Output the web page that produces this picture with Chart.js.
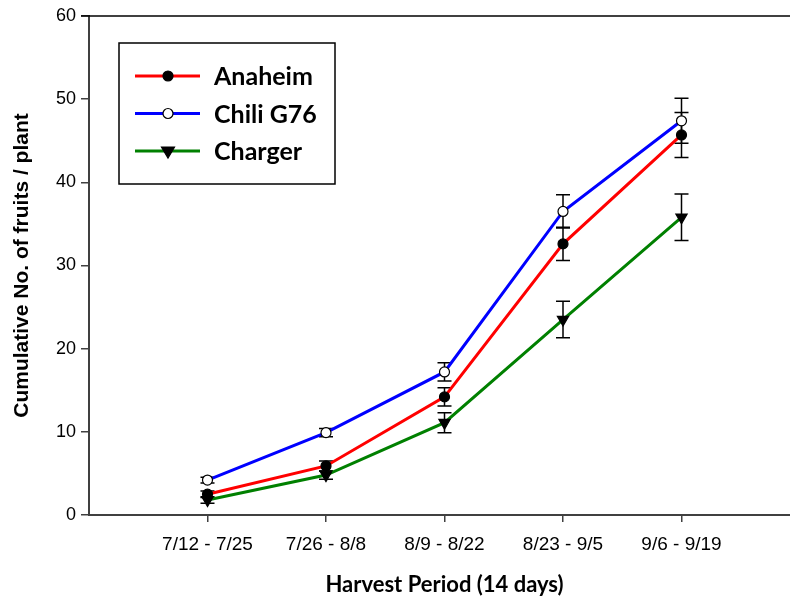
<!DOCTYPE html>
<html>
<head>
<meta charset="utf-8">
<title>Cumulative fruits per plant</title>
<script src="https://cdn.jsdelivr.net/npm/chart.js@4/dist/chart.umd.min.js"></script>
<style>
    html, body { margin: 0; padding: 0; background: #fff; overflow: hidden; }
    #wrap { width: 790px; height: 600px; overflow: hidden; }
    #chart { display: block; }
</style>
</head>
<body>
<div id="wrap"><canvas id="chart" width="820" height="600"></canvas></div>
<script>
// harvest periods (14 days each)
const periods = ['7/12 - 7/25', '7/26 - 8/8', '8/9 - 8/22', '8/23 - 9/5', '9/6 - 9/19'];

const anaheim = [2.5, 5.9, 14.2, 32.6, 45.7];
const anaheimErr = [0.4, 0.6, 1.1, 2.0, 2.7];

const chili = [4.2, 9.9, 17.2, 36.5, 47.4];
const chiliErr = [0.35, 0.5, 1.1, 2.0, 2.7];

const charger = [1.8, 4.8, 11.1, 23.5, 35.8];
const chargerErr = [0.4, 0.5, 1.2, 2.2, 2.8];

const yTicks = [0, 10, 20, 30, 40, 50, 60];

const axisColor = '#404040';

function toPoints(values) {
    return values.map((v, i) => ({ x: i + 1, y: v }));
}

function makeSeries(label, values, errors, color, style, fill, rotation) {
    return {
        label: label,
        data: toPoints(values),
        errors: errors,
        borderColor: color,
        borderWidth: 3,
        pointStyle: style,
        pointRotation: rotation,
        pointRadius: style === 'triangle' ? 6.5 : 5,
        pointBackgroundColor: fill,
        pointBorderColor: '#000',
        pointBorderWidth: 1.2,
        tension: 0
    };
}

// error bars go under the lines and markers
const errorBars = {
    id: 'errorBars',
    beforeDatasetsDraw(chart) {
        const ctx = chart.ctx;
        const xs = chart.scales.x;
        const ys = chart.scales.y;
        ctx.save();
        ctx.strokeStyle = '#000';
        ctx.lineWidth = 1.5;
        chart.data.datasets.forEach(ds => {
            ds.data.forEach((p, i) => {
                const e = ds.errors[i];
                const px = xs.getPixelForValue(p.x);
                const top = ys.getPixelForValue(p.y + e);
                const bot = ys.getPixelForValue(p.y - e);
                ctx.beginPath();
                ctx.moveTo(px, top);
                ctx.lineTo(px, bot);
                ctx.moveTo(px - 7, top);
                ctx.lineTo(px + 7, top);
                ctx.moveTo(px - 7, bot);
                ctx.lineTo(px + 7, bot);
                ctx.stroke();
            });
        });
        ctx.restore();
    }
};

// top frame line and the boxed legend
const frameAndLegend = {
    id: 'frameAndLegend',
    afterDraw(chart) {
        const ctx = chart.ctx;
        const area = chart.chartArea;
        ctx.save();
        ctx.strokeStyle = '#000';
        ctx.lineWidth = 1.5;
        ctx.beginPath();
        ctx.moveTo(area.left - 8, area.top);
        ctx.lineTo(area.right, area.top);
        ctx.stroke();

        const box = { x: 119, y: 43, w: 216, h: 141 };
        ctx.strokeRect(box.x, box.y, box.w, box.h);

        ctx.font = 'bold 25px Lato';
        ctx.textBaseline = 'middle';
        chart.data.datasets.forEach((ds, i) => {
            const y = 76 + i * 37.5;
            ctx.strokeStyle = ds.borderColor;
            ctx.lineWidth = 3;
            ctx.beginPath();
            ctx.moveTo(135, y);
            ctx.lineTo(200, y);
            ctx.stroke();

            ctx.fillStyle = ds.pointBackgroundColor;
            ctx.strokeStyle = '#000';
            ctx.lineWidth = 1.2;
            ctx.beginPath();
            if (ds.pointStyle === 'triangle') {
                ctx.moveTo(161.5, y - 4);
                ctx.lineTo(174.5, y - 4);
                ctx.lineTo(168, y + 7);
                ctx.closePath();
            } else {
                ctx.arc(168, y, 5, 0, Math.PI * 2);
            }
            ctx.fill();
            ctx.stroke();

            ctx.fillStyle = '#000';
            ctx.fillText(ds.label, 214, y + 1);
        });
        ctx.restore();
    }
};

new Chart(document.getElementById('chart'), {
    type: 'line',
    data: {
        datasets: [
            makeSeries('Anaheim', anaheim, anaheimErr, '#ff0000', 'circle', '#000', 0),
            makeSeries('Chili G76', chili, chiliErr, '#0000ff', 'circle', '#fff', 0),
            makeSeries('Charger', charger, chargerErr, '#008000', 'triangle', '#000', 180)
        ]
    },
    options: {
        responsive: false,
        animation: false,
        layout: { padding: { top: 16, right: 20, left: 0, bottom: 0 } },
        plugins: {
            legend: { display: false },
            tooltip: { enabled: false }
        },
        scales: {
            x: {
                type: 'linear',
                min: 0,
                max: 6,
                afterBuildTicks: axis => {
                    axis.ticks = periods.map((p, i) => ({ value: i + 1 }));
                },
                afterFit: scale => { scale.height = 85; },
                border: { color: axisColor, width: 2 },
                grid: { display: true, drawOnChartArea: false, drawTicks: true, tickLength: 7, color: axisColor, lineWidth: 1.5 },
                ticks: {
                    autoSkip: false,
                    maxRotation: 0,
                    padding: 11,
                    color: '#000',
                    font: { family: 'Liberation Sans', size: 19 },
                    callback: value => periods[value - 1] || ''
                },
                title: {
                    display: true,
                    text: 'Harvest Period (14 days)',
                    color: '#000',
                    font: { family: 'Lato', size: 22, weight: 'bold', lineHeight: 1.2 },
                    padding: { top: 0, bottom: 2 }
                }
            },
            y: {
                min: 0,
                max: 60,
                afterBuildTicks: axis => {
                    axis.ticks = yTicks.map(v => ({ value: v }));
                },
                afterFit: scale => { scale.width = 89; },
                border: { color: axisColor, width: 2 },
                grid: { display: true, drawOnChartArea: false, drawTicks: true, tickLength: 8, color: axisColor, lineWidth: 1.5 },
                ticks: {
                    padding: 5,
                    color: '#000',
                    font: { family: 'Liberation Sans', size: 18 }
                },
                title: {
                    display: true,
                    text: 'Cumulative No. of fruits / plant',
                    color: '#000',
                    font: { family: 'Liberation Sans', size: 21, weight: 'bold', lineHeight: 1 },
                    padding: { top: 12, bottom: 0 }
                }
            }
        }
    },
    plugins: [errorBars, frameAndLegend]
});
</script>
</body>
</html>
